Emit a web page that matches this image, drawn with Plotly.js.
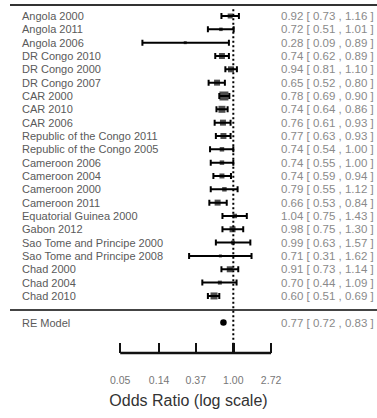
<!DOCTYPE html>
<html>
<head>
<meta charset="utf-8">
<script src="https://cdn.plot.ly/plotly-3.0.1.min.js"></script>
<style>html,body{margin:0;padding:0;background:#fff;}#chart{width:377px;height:418px;}</style>
</head>
<body>
<div id="chart"></div>
<script>
const studies = ["Angola 2000","Angola 2011","Angola 2006","DR Congo 2010","DR Congo 2000","DR Congo 2007","CAR 2000","CAR 2010","CAR 2006","Republic of the Congo 2011","Republic of the Congo 2005","Cameroon 2006","Cameroon 2004","Cameroon 2000","Cameroon 2011","Equatorial Guinea 2000","Gabon 2012","Sao Tome and Principe 2000","Sao Tome and Principe 2008","Chad 2000","Chad 2004","Chad 2010"];
const oddsRatio = [0.92,0.72,0.28,0.74,0.94,0.65,0.78,0.74,0.76,0.77,0.74,0.74,0.74,0.79,0.66,1.04,0.98,0.99,0.71,0.91,0.70,0.60];
const ciLower  = [0.73,0.51,0.09,0.62,0.81,0.52,0.69,0.64,0.61,0.63,0.54,0.55,0.59,0.55,0.53,0.75,0.75,0.63,0.31,0.73,0.44,0.51];
const ciUpper  = [1.16,1.01,0.89,0.89,1.10,0.80,0.90,0.86,0.93,0.93,1.00,1.00,0.94,1.12,0.84,1.43,1.30,1.57,1.62,1.14,1.09,0.69];
const weights  = [5,3.5,3,6,6,6,9,7,6,6,4.5,4.5,5,4.5,6,4.5,6,4,3,6,4,7];
const reLabel = "RE Model";
const reEstimate = 0.77, reLower = 0.72, reUpper = 0.83;
const tickValues = [0.05,0.14,0.37,1.00,2.72];
const tickLabels = ["0.05","0.14","0.37","1.00","2.72"];

const rows = studies.map((_, i) => i);
const reRow = studies.length + 1;
const f = v => v.toFixed(2);

const traces = [{
  type: "scatter", mode: "markers",
  x: oddsRatio, y: rows,
  marker: {symbol: "square", size: weights, color: "#000", line: {width: 0}},
  error_x: {type: "data", symmetric: false,
    array: oddsRatio.map((v, i) => ciUpper[i] - v),
    arrayminus: oddsRatio.map((v, i) => v - ciLower[i]),
    color: "#000", thickness: 2, width: 3},
  hoverinfo: "skip", showlegend: false
}, {
  type: "scatter", mode: "markers",
  x: [reEstimate], y: [reRow],
  marker: {symbol: "circle", size: 6.5, color: "#000"},
  hoverinfo: "skip", showlegend: false
}];

const ann = [];
const labFont = {family: "Liberation Sans, Arial, sans-serif", size: 11, color: "#5a5a5a"};
const numFont = {family: "Liberation Sans Narrow, Liberation Sans, Arial, sans-serif", size: 11.5, color: "#8a8a8a"};
studies.concat([reLabel]).forEach((s, i) => {
  const r = i < studies.length ? i : reRow;
  ann.push({xref: "paper", yref: "y", x: 20/377, y: r, text: s, showarrow: false, xanchor: "left", yanchor: "middle", font: labFont});
});
oddsRatio.concat([reEstimate]).forEach((v, i) => {
  const lo = i < studies.length ? ciLower[i] : reLower;
  const hi = i < studies.length ? ciUpper[i] : reUpper;
  const r = i < studies.length ? i : reRow;
  ann.push({xref: "paper", yref: "y", x: 376/377, y: r, text: f(v) + " [ " + f(lo) + " , " + f(hi) + " ]", showarrow: false, xanchor: "right", yanchor: "middle", font: numFont});
});

const shapes = [
  {type: "line", xref: "paper", yref: "y", x0: 10/377, x1: 1, y0: -0.83, y1: -0.83, line: {color: "#333", width: 2}},
  {type: "line", xref: "paper", yref: "y", x0: 10/377, x1: 1, y0: 22.05, y1: 22.05, line: {color: "#444", width: 2}},
  {type: "line", xref: "x", yref: "y", x0: 1, x1: 1, y0: -0.5, y1: 24.5, line: {color: "#000", width: 2, dash: "2px,2.5px"}},
  {type: "line", xref: "x", yref: "paper", x0: tickValues[0], x1: tickValues[tickValues.length-1], y0: 0, y1: 0, line: {color: "#111", width: 2.5}}
];

const layout = {
  width: 377, height: 418,
  margin: {l: 0, r: 0, t: 0, b: 65},
  paper_bgcolor: "#fff", plot_bgcolor: "#fff",
  xaxis: {type: "log", range: [-2.684, 1.653], showgrid: false, zeroline: false, showline: false,
    tickmode: "array", tickvals: tickValues, ticktext: tickLabels,
    ticks: "inside", ticklen: 10, tickwidth: 2.5, tickcolor: "#111",
    ticklabelstandoff: 19,
    tickfont: {family: "Liberation Sans Narrow, Liberation Sans, Arial, sans-serif", size: 10.5, color: "#777"},
    title: {text: "Odds Ratio (log scale)", font: {family: "Liberation Sans, Arial, sans-serif", size: 16, color: "#333"}, standoff: 10},
    automargin: false, fixedrange: true},
  yaxis: {range: [25.28, -1.2], visible: false, showgrid: false, zeroline: false, fixedrange: true},
  shapes: shapes, annotations: ann, showlegend: false
};

Plotly.newPlot("chart", traces, layout, {staticPlot: true, displayModeBar: false});
</script>
</body>
</html>
